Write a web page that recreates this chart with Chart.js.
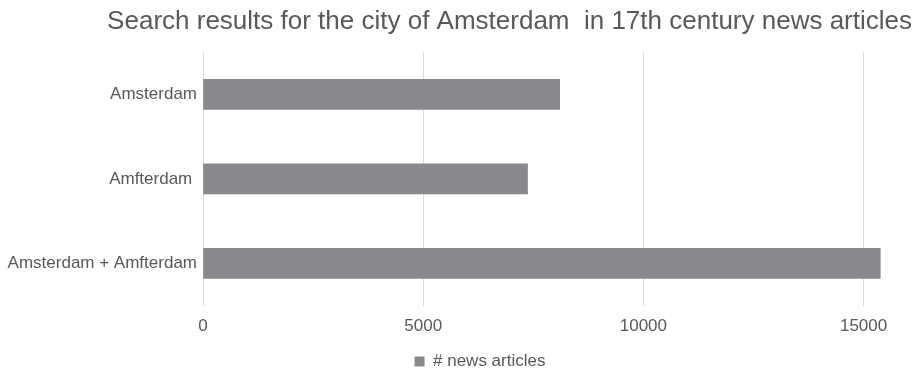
<!DOCTYPE html>
<html>
<head>
<meta charset="utf-8">
<script src="https://cdn.jsdelivr.net/npm/chart.js@4"></script>
<style>
  html, body { margin: 0; padding: 0; background: #fff; }
  #wrap { width: 917px; height: 369px; }
</style>
</head>
<body>
<div id="wrap"><canvas id="chart"></canvas></div>
<script>
const titleText = 'Search results for the city of Amsterdam  in 17th century news articles';
const categories = ['Amsterdam', 'Amfterdam ', 'Amsterdam + Amfterdam'];
const newsArticles = [8100, 7370, 15380];
const xTicks = [0, 5000, 10000, 15000];
const seriesName = '# news articles';

const textColor = '#595959';
const font = 'Liberation Sans, Arial, sans-serif';

// legend sits a little right of the canvas centre in the original
const shiftLegend = {
  id: 'shiftLegend',
  afterLayout(chart) {
    const lg = chart.legend;
    if (!lg) return;
    lg.left += 24;
    lg.right += 24;
    lg.top += 5;
    lg.bottom += 5;
  }
};

const ctx = document.getElementById('chart').getContext('2d');

new Chart(ctx, {
  type: 'bar',
  data: {
    labels: categories,
    datasets: [{
      label: seriesName,
      data: newsArticles,
      backgroundColor: '#88898c',
      borderWidth: 0,
      barThickness: 30
    }]
  },
  plugins: [shiftLegend],
  options: {
    indexAxis: 'y',
    responsive: true,
    maintainAspectRatio: false,
    animation: false,
    layout: { padding: { left: 0, right: 5, top: 0, bottom: -6 } },
    plugins: {
      title: {
        display: true,
        text: titleText,
        align: 'end',
        color: textColor,
        font: { family: font, size: 26, weight: 'normal' },
        padding: { top: 6, bottom: 15 }
      },
      legend: {
        position: 'bottom',
        labels: {
          color: textColor,
          font: { family: font, size: 17 },
          boxWidth: 10,
          boxHeight: 10,
          padding: 0
        }
      },
      tooltip: { enabled: false }
    },
    scales: {
      x: {
        min: 0,
        max: 16100,
        afterBuildTicks: axis => { axis.ticks = xTicks.map(v => ({ value: v })); },
        grid: { color: '#d9d9d9', drawTicks: false },
        border: { display: false },
        ticks: {
          color: textColor,
          font: { family: font, size: 17 },
          padding: 11,
          maxRotation: 0,
          callback: v => String(v)
        }
      },
      y: {
        afterFit: axis => { axis.width = 203; },
        grid: { display: false, drawTicks: false },
        border: { display: false },
        ticks: {
          color: textColor,
          font: { family: font, size: 17 },
          padding: 6
        }
      }
    }
  }
});
</script>
</body>
</html>
